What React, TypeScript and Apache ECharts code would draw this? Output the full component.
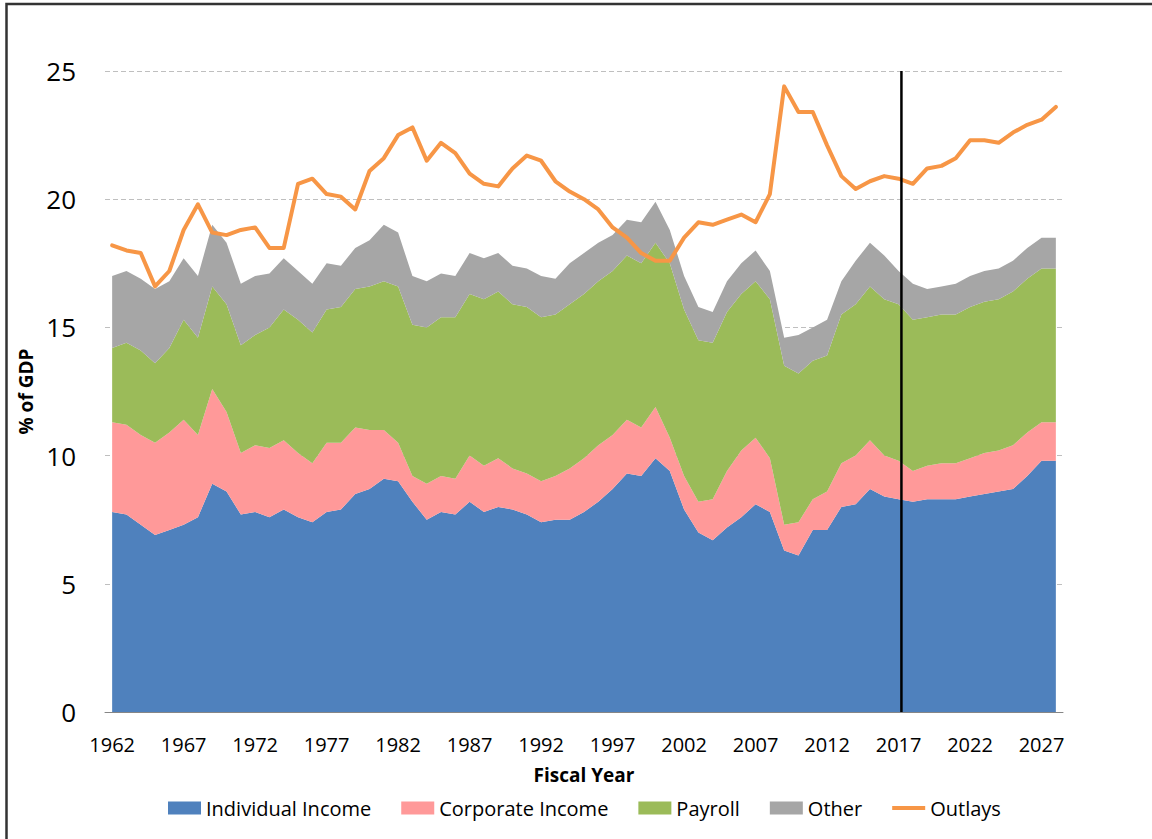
import React, { useEffect, useRef } from "react";
import * as echarts from "echarts";

const years = [
  "1962","1963","1964","1965","1966","1967","1968","1969","1970","1971",
  "1972","1973","1974","1975","1976","1977","1978","1979","1980","1981",
  "1982","1983","1984","1985","1986","1987","1988","1989","1990","1991",
  "1992","1993","1994","1995","1996","1997","1998","1999","2000","2001",
  "2002","2003","2004","2005","2006","2007","2008","2009","2010","2011",
  "2012","2013","2014","2015","2016","2017","2018","2019","2020","2021",
  "2022","2023","2024","2025","2026","2027","2028",
];

const individualIncome = [
  7.8, 7.7, 7.3, 6.9, 7.1, 7.3, 7.6, 8.9, 8.6, 7.7,
  7.8, 7.6, 7.9, 7.6, 7.4, 7.8, 7.9, 8.5, 8.7, 9.1,
  9.0, 8.2, 7.5, 7.8, 7.7, 8.2, 7.8, 8.0, 7.9, 7.7,
  7.4, 7.5, 7.5, 7.8, 8.2, 8.7, 9.3, 9.2, 9.9, 9.4,
  7.9, 7.0, 6.7, 7.2, 7.6, 8.1, 7.8, 6.3, 6.1, 7.1,
  7.1, 8.0, 8.1, 8.7, 8.4, 8.3, 8.2, 8.3, 8.3, 8.3,
  8.4, 8.5, 8.6, 8.7, 9.2, 9.8, 9.8,
];

const corporateIncome = [
  3.5, 3.5, 3.5, 3.6, 3.8, 4.1, 3.2, 3.7, 3.1, 2.4,
  2.6, 2.7, 2.7, 2.5, 2.3, 2.7, 2.6, 2.6, 2.3, 1.9,
  1.5, 1.0, 1.4, 1.4, 1.4, 1.8, 1.8, 1.9, 1.6, 1.6,
  1.6, 1.7, 2.0, 2.1, 2.2, 2.1, 2.1, 1.9, 2.0, 1.3,
  1.3, 1.2, 1.6, 2.2, 2.6, 2.6, 2.1, 1.0, 1.3, 1.2,
  1.5, 1.7, 1.9, 1.9, 1.6, 1.5, 1.2, 1.3, 1.4, 1.4,
  1.5, 1.6, 1.6, 1.7, 1.7, 1.5, 1.5,
];

const payroll = [
  2.9, 3.2, 3.3, 3.1, 3.3, 3.9, 3.8, 4.0, 4.2, 4.2,
  4.3, 4.7, 5.1, 5.2, 5.1, 5.2, 5.3, 5.4, 5.6, 5.8,
  6.1, 5.9, 6.1, 6.2, 6.3, 6.3, 6.5, 6.5, 6.4, 6.5,
  6.4, 6.3, 6.4, 6.4, 6.4, 6.4, 6.4, 6.4, 6.4, 6.8,
  6.5, 6.3, 6.1, 6.2, 6.1, 6.1, 6.2, 6.2, 5.8, 5.4,
  5.3, 5.8, 5.9, 6.0, 6.1, 6.1, 5.9, 5.8, 5.8, 5.8,
  5.9, 5.9, 5.9, 6.0, 6.0, 6.0, 6.0,
];

const other = [
  2.8, 2.8, 2.8, 2.9, 2.6, 2.4, 2.4, 2.4, 2.4, 2.4,
  2.3, 2.1, 2.0, 1.9, 1.9, 1.8, 1.6, 1.6, 1.8, 2.2,
  2.1, 1.9, 1.8, 1.7, 1.6, 1.6, 1.6, 1.5, 1.5, 1.5,
  1.6, 1.4, 1.6, 1.6, 1.5, 1.4, 1.4, 1.6, 1.6, 1.3,
  1.3, 1.3, 1.2, 1.2, 1.2, 1.2, 1.1, 1.1, 1.5, 1.3,
  1.4, 1.3, 1.7, 1.7, 1.7, 1.3, 1.4, 1.1, 1.1, 1.2,
  1.2, 1.2, 1.2, 1.2, 1.2, 1.2, 1.2,
];

const outlays = [
  18.2, 18.0, 17.9, 16.6, 17.2, 18.8, 19.8, 18.7, 18.6, 18.8,
  18.9, 18.1, 18.1, 20.6, 20.8, 20.2, 20.1, 19.6, 21.1, 21.6,
  22.5, 22.8, 21.5, 22.2, 21.8, 21.0, 20.6, 20.5, 21.2, 21.7,
  21.5, 20.7, 20.3, 20.0, 19.6, 18.9, 18.5, 17.9, 17.6, 17.6,
  18.5, 19.1, 19.0, 19.2, 19.4, 19.1, 20.2, 24.4, 23.4, 23.4,
  22.1, 20.9, 20.4, 20.7, 20.9, 20.8, 20.6, 21.2, 21.3, 21.6,
  22.3, 22.3, 22.2, 22.6, 22.9, 23.1, 23.6,
];

// y-axis: 0..25 step 5
const yMin = 0;
const yMax = 25;
const yStep = 5;

// Year where the projection divider is drawn (slightly after 2017)
const projectionYear = 2017.2;

const seriesNames = ["Individual Income", "Corporate Income", "Payroll", "Other", "Outlays"];
const colors = ["#4F81BD", "#FF9999", "#9BBB59", "#A6A6A6", "#F79646"];

export default function App() {
  const ref = useRef<HTMLDivElement>(null);

  useEffect(() => {
    const chart = echarts.init(ref.current!, null, { renderer: "svg" });
    const font = "'Open Sans', 'Liberation Sans', sans-serif";
    const areaData = [individualIncome, corporateIncome, payroll, other];

    const areaSeries = areaData.map((d, i) => ({
      name: seriesNames[i],
      type: "line",
      stack: "revenue",
      data: d,
      symbol: "none",
      lineStyle: { width: 0 },
      itemStyle: { color: colors[i] },
      areaStyle: { color: colors[i], opacity: 1 },
      z: 2,
    }));

    chart.setOption({
      animation: false,
      backgroundColor: "#ffffff",
      textStyle: { fontFamily: font },
      grid: { left: 105, right: 89, top: 71, bottom: 127 },
      xAxis: [
        {
          type: "category",
          data: years,
          boundaryGap: true,
          axisLine: { lineStyle: { color: "#868686", width: 1 } },
          axisTick: { interval: 4, length: 6, lineStyle: { color: "#868686" } },
          axisLabel: { interval: 4, fontSize: 20, color: "#000", margin: 22, fontFamily: font },
          name: "Fiscal Year",
          nameLocation: "middle",
          nameGap: 53,
          nameTextStyle: { fontSize: 19, fontWeight: "bold", color: "#000", fontFamily: font },
          splitLine: { show: false },
        },
        { type: "value", min: 1961.5, max: 2028.5, show: false },
      ],
      yAxis: {
        type: "value",
        min: yMin,
        max: yMax,
        interval: yStep,
        axisLine: { show: false },
        axisTick: { show: false },
        axisLabel: { fontSize: 26, color: "#000", margin: 29, fontFamily: font },
        splitLine: { lineStyle: { color: "#BFBFBF", width: 1, type: [5, 3] } },
        name: "% of GDP",
        nameLocation: "middle",
        nameGap: 68,
        nameRotate: 90,
        nameTextStyle: { fontSize: 19, fontWeight: "bold", color: "#000", fontFamily: font },
      },
      legend: {
        left: 168,
        top: 798,
        itemWidth: 33,
        itemHeight: 13,
        itemGap: 30,
        padding: 0,
        textStyle: { fontSize: 20, color: "#000", fontFamily: font },
        data: [
          { name: seriesNames[0], icon: "rect" },
          { name: seriesNames[1], icon: "rect" },
          { name: seriesNames[2], icon: "rect" },
          { name: seriesNames[3], icon: "rect" },
          { name: seriesNames[4], icon: "path://M0,0L33,0L33,4L0,4Z" },
        ],
      },
      graphic: [
        {
          type: "rect",
          shape: { x: 6.5, y: 4, width: 1200, height: 900 },
          style: { fill: "none", stroke: "#333333", lineWidth: 2.5 },
          silent: true,
        },
      ],
      series: [
        ...areaSeries,
        {
          name: seriesNames[4],
          type: "line",
          data: outlays,
          symbol: "none",
          itemStyle: { color: colors[4] },
          lineStyle: { color: colors[4], width: 4, cap: "round", join: "round" },
          z: 5,
        },
        {
          name: "Projection",
          type: "line",
          xAxisIndex: 1,
          yAxisIndex: 0,
          data: [[projectionYear, yMin], [projectionYear, yMax]],
          symbol: "none",
          lineStyle: { color: "#000", width: 2.5 },
          itemStyle: { color: "#000" },
          z: 10,
          silent: true,
        },
      ],
    });

    return () => chart.dispose();
  }, []);

  return (
    <div
      ref={ref}
      style={{ position: "absolute", left: 0, top: 0, width: 1152, height: 839 }}
    />
  );
}
